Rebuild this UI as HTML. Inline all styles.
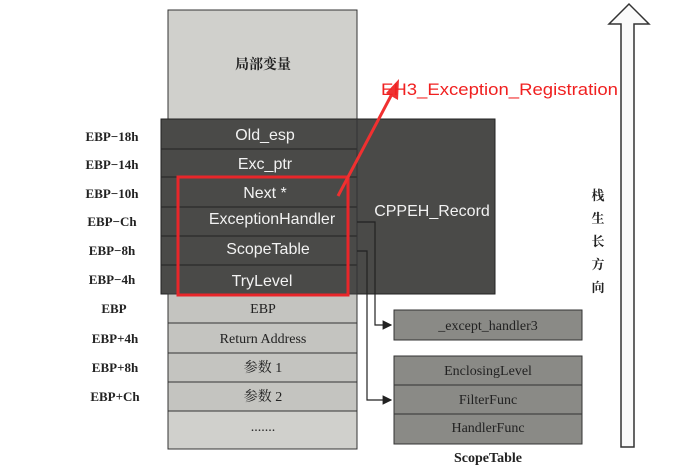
<!DOCTYPE html><html><head><meta charset="utf-8"><style>
body{margin:0;width:698px;height:470px;background:#fff;overflow:hidden}
svg text{font-family:"Liberation Serif","Noto Serif CJK SC",serif}
svg text.w,svg text.r{font-family:"Liberation Sans","Noto Sans CJK SC",sans-serif}
.w{fill:#f2f2f2;font-size:16px}
.s{font-size:14px;fill:#222}
.l{font-size:13px;font-weight:bold;fill:#222}
</style></head><body>
<svg width="698" height="470" xmlns="http://www.w3.org/2000/svg">
<defs><marker id="a" markerWidth="8" markerHeight="8" refX="7" refY="4" orient="auto"><path d="M0,0 L8,4 L0,8z" fill="#222"/></marker></defs>
<rect x="168" y="10" width="189" height="109" fill="#d0d0cc" stroke="#333"/>
<text x="263" y="69" text-anchor="middle" class="s" font-weight="bold">局部变量</text>
<rect x="161" y="119" width="334" height="175" fill="#4a4a48" stroke="#222"/>
<g stroke="#222"><line x1="161" y1="149" x2="357" y2="149"/><line x1="161" y1="177" x2="357" y2="177"/><line x1="161" y1="207" x2="357" y2="207"/><line x1="161" y1="236" x2="357" y2="236"/><line x1="161" y1="265" x2="357" y2="265"/><line x1="357" y1="119" x2="357" y2="294" stroke="#333"/></g>
<text class="w" x="265" y="140" text-anchor="middle">Old_esp</text>
<text class="w" x="265" y="169" text-anchor="middle">Exc_ptr</text>
<text class="w" x="265" y="198" text-anchor="middle">Next *</text>
<text class="w" x="272" y="224" text-anchor="middle">ExceptionHandler</text>
<text class="w" x="268" y="254" text-anchor="middle">ScopeTable</text>
<text class="w" x="262" y="286" text-anchor="middle">TryLevel</text>
<text class="w" x="432" y="216" text-anchor="middle">CPPEH_Record</text>
<g fill="#c4c4c0" stroke="#333"><rect x="168" y="294" width="189" height="29"/><rect x="168" y="323" width="189" height="30"/><rect x="168" y="353" width="189" height="29"/><rect x="168" y="382" width="189" height="29"/><rect x="168" y="411" width="189" height="38" fill="#d0d0cc"/></g>
<text class="s" x="263" y="313" text-anchor="middle">EBP</text>
<text class="s" x="263" y="343" text-anchor="middle" font-size="13">Return Address</text>
<text class="s" x="263" y="372" text-anchor="middle">参数 1</text>
<text class="s" x="263" y="401" text-anchor="middle">参数 2</text>
<text class="s" x="263" y="431" text-anchor="middle">.......</text>
<g text-anchor="middle"><text x="112" y="141" class="l">EBP−18h</text><text x="112" y="169" class="l">EBP−14h</text><text x="112" y="198" class="l">EBP−10h</text><text x="112" y="226" class="l">EBP−Ch</text><text x="112" y="255" class="l">EBP−8h</text><text x="112" y="284" class="l">EBP−4h</text><text x="114" y="313" class="l">EBP</text><text x="115" y="343" class="l">EBP+4h</text><text x="115" y="372" class="l">EBP+8h</text><text x="115" y="401" class="l">EBP+Ch</text></g>
<rect x="178" y="177" width="170" height="118" fill="none" stroke="#e8262a" stroke-width="3"/>
<line x1="338" y1="196" x2="393" y2="92" stroke="#f03030" stroke-width="3"/>
<path d="M399,79 L398,100 L386,93z" fill="#f03030"/>
<text class="r" x="381" y="95" font-size="17" fill="#f02020" textLength="237" lengthAdjust="spacingAndGlyphs">EH3_Exception_Registration</text>
<g fill="none" stroke="#222" stroke-width="1.2"><path d="M357,222 H375 V325 H391" marker-end="url(#a)"/><path d="M357,251 H367 V400 H391" marker-end="url(#a)"/></g>
<rect x="394" y="310" width="188" height="30" fill="#8a8a86" stroke="#333"/>
<text class="s" x="488" y="330" text-anchor="middle">_except_handler3</text>
<rect x="394" y="356" width="188" height="88" fill="#8a8a86" stroke="#333"/>
<line x1="394" y1="385" x2="582" y2="385" stroke="#333"/><line x1="394" y1="414" x2="582" y2="414" stroke="#333"/>
<text class="s" x="488" y="375" text-anchor="middle">EnclosingLevel</text>
<text class="s" x="488" y="404" text-anchor="middle">FilterFunc</text>
<text class="s" x="488" y="432" text-anchor="middle">HandlerFunc</text>
<text class="s" x="488" y="462" text-anchor="middle" font-weight="bold">ScopeTable</text>
<path d="M621,447 V24 H609 L629,4 L649,24 H634 V447 Z" fill="#fafafa" stroke="#333" stroke-width="1.5"/>
<g text-anchor="middle"><text x="598" y="200" class="l">栈</text><text x="598" y="223" class="l">生</text><text x="598" y="246" class="l">长</text><text x="598" y="269" class="l">方</text><text x="598" y="292" class="l">向</text></g>
</svg></body></html>
